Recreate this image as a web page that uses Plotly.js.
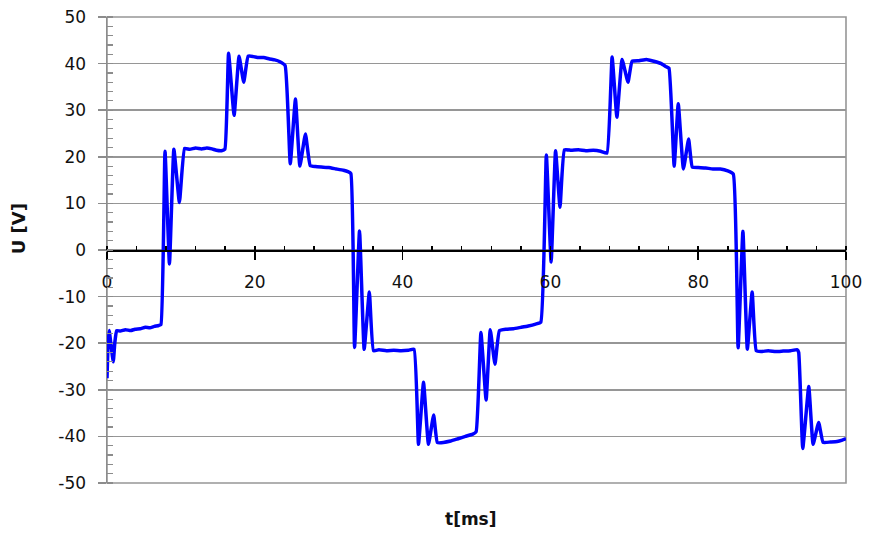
<!DOCTYPE html>
<html>
<head>
<meta charset="utf-8">
<script src="https://cdn.plot.ly/plotly-3.0.1.min.js"></script>
<style>html,body{margin:0;padding:0;background:#fff;}#chart{width:869px;height:535px;}</style>
</head>
<body>
<div id="chart"></div>
<script>
// time in ms
var timeMs = [
  0, 0.15, 0.3, 0.55, 0.85, 1.05, 1.3, 1.8, 2.5, 3.2, 3.8, 4.5, 5.2, 5.8, 6.4, 7.0, 7.3,
  7.85, 8.45, 9.05, 9.8, 10.5, 11.2, 12.0, 12.8, 13.5, 14.2, 14.8, 15.5, 15.95,
  16.45, 17.2, 17.87, 18.5, 19.1, 19.8, 20.5, 21.2, 22.0, 22.7, 23.4, 24.1,
  24.8, 25.5, 26.1, 26.85, 27.5, 28.2, 29.0, 30.0, 31.0, 32.0, 32.6, 33.0,
  33.5, 34.17, 34.8, 35.5, 36.06, 36.8, 37.8, 38.8, 39.8, 40.8, 41.55,
  42.15, 42.83, 43.5, 44.2, 44.7, 45.5, 46.5, 47.5, 48.5, 49.5, 49.95,
  50.6, 51.3, 51.86, 52.5, 53.1, 54.0, 55.0, 56.0, 57.0, 58.0, 58.7,
  59.45, 60.1, 60.7, 61.3, 61.9, 62.8, 63.8, 64.8, 65.8, 66.8, 67.65,
  68.35, 69.0, 69.7, 70.5, 71.05, 72.0, 73.0, 74.0, 75.0, 75.7, 76.05,
  76.75, 77.3, 78.0, 78.7, 79.2, 80.0, 81.0, 82.0, 83.0, 84.0, 84.75,
  85.4, 86.05, 86.65, 87.3, 87.85, 88.5, 89.5, 90.5, 91.5, 92.5, 93.4, 93.6,
  94.15, 94.96, 95.55, 96.3, 96.9, 97.9, 98.8, 99.5, 100
];
// voltage in V
var voltageV = [
  -27.5, -20, -17.3, -20.5, -24, -20, -17.3, -17.4, -17.1, -17.3, -17.0, -16.9, -16.6, -16.7, -16.4, -16.2, -16.0,
  21.2, -3.0, 21.6, 10.2, 21.8, 21.6, 21.9, 21.7, 21.9, 21.7, 21.4, 21.3, 21.6,
  42.2, 28.9, 41.6, 36.0, 41.6, 41.5, 41.3, 41.3, 41.0, 40.8, 40.4, 39.6,
  18.5, 32.4, 18.0, 24.9, 18.1, 17.9, 17.8, 17.7, 17.4, 17.1, 16.8, 16.4,
  -20.9, 4.1, -21.3, -9.0, -21.6, -21.4, -21.6, -21.5, -21.6, -21.5, -21.3,
  -41.7, -28.4, -41.7, -35.4, -41.3, -41.3, -41.0, -40.5, -40.0, -39.5, -39.0,
  -17.7, -32.2, -17.1, -24.5, -17.3, -17.0, -16.9, -16.6, -16.3, -15.9, -15.5,
  20.4, -2.6, 21.3, 9.2, 21.5, 21.4, 21.5, 21.3, 21.4, 21.2, 20.8,
  41.4, 28.5, 40.9, 36.0, 40.5, 40.6, 40.9, 40.5, 40.0, 39.3, 39.0,
  18.0, 31.4, 17.4, 23.8, 17.8, 17.7, 17.6, 17.4, 17.4, 17.0, 16.3,
  -21.0, 4.0, -21.3, -9.0, -21.6, -21.8, -21.6, -21.8, -21.7, -21.6, -21.4, -22.0,
  -42.6, -29.3, -41.7, -37.0, -41.3, -41.2, -41.1, -40.8, -40.5
];
var xTickVals = [0, 20, 40, 60, 80, 100];
var yTickVals = [-50, -40, -30, -20, -10, 0, 10, 20, 30, 40, 50];

var tickFont = {family: 'DejaVu Sans, Arial, sans-serif', size: 17, color: '#111'};

var trace = {
  x: timeMs, y: voltageV, type: 'scatter', mode: 'lines',
  line: {color: '#0000ff', width: 3.5, shape: 'spline', smoothing: 0.35},
  xaxis: 'x', yaxis: 'y', hoverinfo: 'skip'
};

var layout = {
  width: 869, height: 535,
  margin: {l: 107, r: 23, t: 17, b: 52, pad: 0},
  paper_bgcolor: '#ffffff', plot_bgcolor: '#ffffff',
  showlegend: false,
  xaxis: {
    range: [0, 100], anchor: 'free', position: 0.5,
    tickvals: xTickVals, ticktext: xTickVals.map(String),
    ticks: 'outside', ticklen: 8, tickwidth: 1.5, tickcolor: '#000',
    ticklabelstandoff: 8,
    showline: true, linecolor: '#000', linewidth: 1.5,
    showgrid: false, zeroline: false,
    minor: {dtick: 4, ticks: 'inside', ticklen: 4, tickwidth: 1.5, tickcolor: '#000', showgrid: false},
    tickfont: tickFont, fixedrange: true
  },
  yaxis: {
    range: [-50, 50],
    tickvals: yTickVals, ticktext: yTickVals.map(String),
    ticks: 'outside', ticklen: 8, tickwidth: 1.5, tickcolor: '#8c8c8c',
    ticklabelstandoff: 8,
    showline: true, linecolor: '#8c8c8c', linewidth: 1.5,
    showgrid: true, gridcolor: '#969696', gridwidth: 1.6,
    zeroline: false,
    minor: {dtick: 2, ticks: 'inside', ticklen: 6, tickwidth: 1.2, tickcolor: '#8c8c8c', showgrid: false},
    tickfont: tickFont, fixedrange: true
  },
  shapes: [{
    type: 'rect', xref: 'paper', yref: 'paper', x0: 0, x1: 1, y0: 0, y1: 1,
    line: {color: '#969696', width: 1.6}, layer: 'below'
  }],
  annotations: [
    {text: '<b>t[ms]</b>', xref: 'paper', yref: 'paper', x: 0.493, y: -0.077,
     xanchor: 'center', yanchor: 'middle', showarrow: false,
     font: {family: 'DejaVu Sans, Arial, sans-serif', size: 17, color: '#111'}},
    {text: '<b>U [V]</b>', xref: 'paper', yref: 'paper', x: -0.12, y: 0.545,
     xanchor: 'center', yanchor: 'middle', showarrow: false, textangle: -90,
     font: {family: 'DejaVu Sans, Arial, sans-serif', size: 18, color: '#111'}}
  ]
};

Plotly.newPlot('chart', [trace], layout, {staticPlot: true, displayModeBar: false});
</script>
</body>
</html>
